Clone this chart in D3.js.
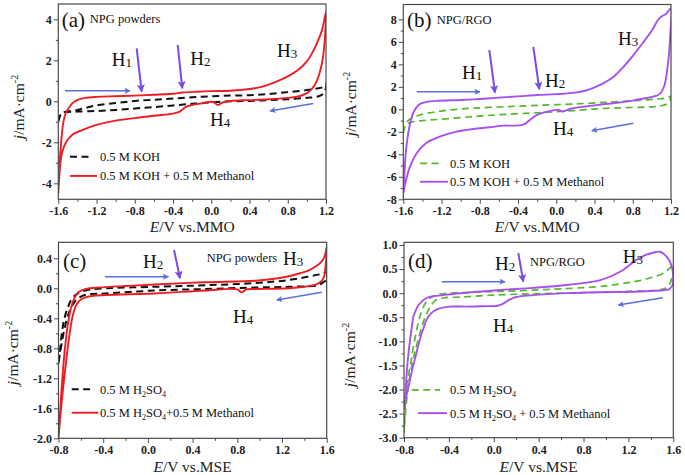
<!DOCTYPE html>
<html><head><meta charset="utf-8">
<script src="https://cdn.jsdelivr.net/npm/d3@7"></script>
<style>body{margin:0;background:#fff}svg{display:block}</style>
</head><body>
<svg id="chart" width="685" height="475"></svg>
<script>
// ---------- DATA ----------
const xTicksMMO = [-1.6,-1.2,-0.8,-0.4,0.0,0.4,0.8,1.2];
const xTicksMSE = [-0.8,-0.4,0.0,0.4,0.8,1.2,1.6];
const aYTicks = [-4,-2,0,2,4];
const bYTicks = [-8,-6,-4,-2,0,2,4,6,8];
const cYTicks = [-2.0,-1.6,-1.2,-0.8,-0.4,0.0,0.4];
const dYTicks = [-3.0,-2.5,-2.0,-1.5,-1.0,-0.5,0.0,0.5,1.0];

// (a) NPG powders, 0.5 M KOH
const aKOH_E = [-1.6,-1.58,-1.55,-1.5,-1.4,-1.3,-1.2,-1.0,-0.8,-0.6,-0.4,-0.2,0.0,0.2,0.4,0.6,0.8,1.0,1.1,1.18,1.2,
  1.19,1.15,1.1,1.0,0.8,0.6,0.4,0.2,0.0,-0.2,-0.4,-0.6,-0.8,-1.0,-1.2,-1.4,-1.5,-1.56,-1.6];
const aKOH_j = [-1.0,-0.7,-0.55,-0.5,-0.42,-0.3,-0.2,-0.08,0.02,0.08,0.14,0.2,0.25,0.28,0.3,0.36,0.45,0.55,0.62,0.72,0.85,
  0.5,0.3,0.22,0.17,0.1,0.06,0.02,0.0,-0.05,-0.12,-0.2,-0.28,-0.35,-0.42,-0.47,-0.5,-0.52,-0.55,-0.9];
// (a) NPG powders, 0.5 M KOH + 0.5 M Methanol
const aMeOH_E = [-1.6,-1.59,-1.57,-1.55,-1.52,-1.48,-1.44,-1.39,-1.32,-1.2,-1.0,-0.8,-0.6,-0.4,-0.3,-0.15,0.0,0.2,0.4,0.5,0.6,0.7,0.8,0.9,1.0,1.06,1.12,1.16,1.2,
  1.19,1.17,1.14,1.1,1.05,1.0,0.92,0.8,0.6,0.4,0.2,0.12,0.07,0.03,0.0,-0.1,-0.2,-0.27,-0.33,-0.4,-0.6,-0.8,-1.0,-1.2,-1.35,-1.45,-1.52,-1.56,-1.58,-1.6];
const aMeOH_j = [-4.5,-3.3,-2.0,-1.1,-0.55,-0.25,-0.05,0.08,0.17,0.22,0.25,0.28,0.32,0.37,0.43,0.47,0.5,0.52,0.6,0.68,0.82,1.0,1.22,1.5,1.95,2.4,3.0,3.5,4.35,
  3.2,2.2,1.5,0.95,0.6,0.4,0.25,0.17,0.1,0.06,0.02,-0.05,-0.18,-0.05,-0.02,-0.1,-0.18,-0.28,-0.5,-0.6,-0.7,-0.82,-0.94,-1.15,-1.4,-1.62,-2.0,-2.5,-3.1,-4.5];

// (b) NPG/RGO, 0.5 M KOH
const bKOH_E = [-1.6,-1.58,-1.55,-1.5,-1.43,-1.3,-1.1,-0.87,-0.52,-0.17,0.17,0.52,0.87,1.05,1.15,1.2,
  1.19,1.15,1.08,1.0,0.87,0.52,0.17,-0.17,-0.52,-0.87,-1.22,-1.4,-1.52,-1.57,-1.6];
const bKOH_j = [-2.1,-1.5,-1.0,-0.75,-0.5,-0.28,-0.05,0.1,0.24,0.36,0.47,0.62,0.8,0.92,1.0,1.15,
  0.85,0.45,0.28,0.22,0.18,0.09,-0.12,-0.3,-0.44,-0.65,-0.89,-1.0,-1.15,-1.35,-2.1];
// (b) NPG/RGO, 0.5 M KOH + 0.5 M Methanol
const bMeOH_E = [-1.6,-1.59,-1.58,-1.56,-1.53,-1.5,-1.46,-1.42,-1.36,-1.25,-1.0,-0.8,-0.6,-0.4,-0.2,0.0,0.2,0.3,0.4,0.5,0.6,0.7,0.8,0.9,1.0,1.06,1.1,1.15,1.2,
  1.195,1.18,1.16,1.13,1.08,1.0,0.87,0.73,0.52,0.3,0.15,0.1,0.07,0.03,0.0,-0.05,-0.12,-0.2,-0.27,-0.32,-0.36,-0.45,-0.55,-0.7,-0.87,-1.04,-1.22,-1.36,-1.46,-1.53,-1.58,-1.6];
const bMeOH_j = [-7.5,-6.0,-4.5,-2.8,-1.3,-0.4,0.2,0.5,0.65,0.75,0.83,0.92,1.04,1.15,1.27,1.35,1.48,1.65,1.95,2.35,2.9,3.75,4.75,5.85,7.0,7.9,8.25,8.5,9.0,
  7.0,5.0,3.5,2.1,1.35,1.1,0.9,0.68,0.47,0.25,0.05,-0.1,-0.2,-0.08,-0.05,-0.12,-0.25,-0.5,-0.9,-1.25,-1.4,-1.45,-1.45,-1.6,-1.75,-1.98,-2.43,-3.0,-3.9,-5.1,-6.6,-7.5];

// (c) NPG powders, 0.5 M H2SO4
const cAcid_E = [-0.8,-0.785,-0.77,-0.75,-0.72,-0.68,-0.63,-0.56,-0.44,0.06,0.51,0.96,1.26,1.45,1.55,1.6,
  1.6,1.56,1.52,1.26,0.96,0.51,0.06,-0.38,-0.53,-0.6,-0.65,-0.7,-0.74,-0.77,-0.8];
const cAcid_j = [-1.0,-0.8,-0.6,-0.42,-0.27,-0.14,-0.07,-0.03,-0.005,0.02,0.04,0.07,0.11,0.16,0.19,0.21,
  0.12,0.07,0.04,0.02,0.01,-0.01,-0.03,-0.07,-0.08,-0.11,-0.17,-0.3,-0.5,-0.72,-1.0];
// (c) NPG powders, 0.5 M H2SO4 + 0.5 M Methanol
const cMeOH_E = [-0.8,-0.79,-0.775,-0.755,-0.735,-0.71,-0.68,-0.65,-0.62,-0.58,-0.52,-0.44,-0.2,0.06,0.5,0.96,1.15,1.26,1.36,1.44,1.5,1.55,1.58,1.6,
  1.59,1.575,1.55,1.5,1.4,1.26,0.96,0.88,0.84,0.8,0.51,0.06,-0.38,-0.53,-0.6,-0.64,-0.67,-0.7,-0.73,-0.76,-0.78,-0.8];
const cMeOH_j = [-2.0,-1.75,-1.4,-1.0,-0.7,-0.42,-0.22,-0.11,-0.05,-0.02,0.0,0.01,0.03,0.05,0.08,0.1,0.13,0.16,0.2,0.24,0.29,0.35,0.42,0.55,
  0.3,0.15,0.09,0.05,0.02,0.0,-0.01,-0.015,-0.055,-0.015,-0.03,-0.07,-0.09,-0.11,-0.15,-0.22,-0.35,-0.6,-0.95,-1.35,-1.65,-2.0];

// (d) NPG/RGO, 0.5 M H2SO4
const dAcid_E = [-0.8,-0.79,-0.78,-0.76,-0.74,-0.72,-0.69,-0.66,-0.62,-0.57,-0.5,-0.4,-0.2,0.2,0.6,1.0,1.2,1.3,1.4,1.5,1.56,1.6,
  1.59,1.57,1.53,1.45,1.2,0.8,0.4,0.0,-0.3,-0.45,-0.52,-0.57,-0.62,-0.66,-0.7,-0.73,-0.76,-0.78,-0.8];
const dAcid_j = [-2.9,-2.4,-2.0,-1.7,-1.45,-1.15,-0.8,-0.5,-0.25,-0.1,-0.03,0.0,0.02,0.05,0.09,0.15,0.22,0.26,0.32,0.4,0.5,0.6,
  0.35,0.2,0.1,0.06,0.04,0.01,-0.01,-0.04,-0.08,-0.1,-0.15,-0.3,-0.55,-0.85,-1.2,-1.5,-1.9,-2.3,-2.9];
// (d) NPG/RGO, 0.5 M H2SO4 + 0.5 M Methanol
const dMeOH_E = [-0.8,-0.79,-0.776,-0.76,-0.746,-0.73,-0.717,-0.69,-0.67,-0.6,-0.45,-0.24,0.06,0.35,0.65,0.95,1.13,1.27,1.36,1.42,1.48,1.54,1.58,1.6,
  1.59,1.56,1.51,1.4,1.24,0.95,0.65,0.35,0.2,0.145,0.08,0.03,-0.09,-0.25,-0.39,-0.5,-0.56,-0.6,-0.63,-0.66,-0.69,-0.72,-0.76,-0.785,-0.8];
const dMeOH_j = [-2.4,-2.2,-1.66,-1.25,-0.97,-0.7,-0.49,-0.33,-0.245,-0.1,-0.04,0.01,0.066,0.11,0.17,0.27,0.45,0.69,0.8,0.84,0.86,0.76,0.6,0.34,
  0.15,0.08,0.06,0.045,0.03,0.02,0.0,-0.04,-0.08,-0.13,-0.22,-0.26,-0.27,-0.28,-0.28,-0.33,-0.42,-0.56,-0.75,-0.97,-1.25,-1.52,-1.94,-2.2,-2.4];

// ---------- STYLE / LAYOUT ----------
const FONT = "'Liberation Serif','Times New Roman',serif";
const RED = "#ee1d24", PURPLE = "#a84ff2", GREEN = "#55b82c", BLACK = "#111";
const HARROW = "#7a4be6", BLUE = "#5b70d8", FRAME = "#4a4a4a";

const panels = [
  { box:[58.3,326,4,199.3], xDom:[-1.6,1.2], yDom:[-4.78,4.75], xTicks:xTicksMMO, yTicks:aYTicks, yDec:0,
    xTitle:"vs.MMO", xTitleY:232, yLab:[19,107],
    series:[{E:aKOH_E,j:aKOH_j,color:BLACK,dash:"7,4.5",w:2},{E:aMeOH_E,j:aMeOH_j,color:RED,w:1.9}],
    tag:["(a)",-1.565,3.62], name:["NPG powders",-1.27,3.82],
    H:[["1",-1.04,1.72],["2",-0.22,1.77],["3",0.688,2.16],["4",-0.013,-1.2]],
    hArrows:[[-0.78,2.59,-0.728,0.47],[-0.351,2.75,-0.303,0.63]],
    bArrows:[[-1.53,0.52,-0.85,0.52],[1.067,-0.1,0.614,-0.47]],
    legend:[{x0:-1.478,x1:-1.268,y:-2.70,ty:-2.91,text:["0.5 M KOH"]},{x0:-1.478,x1:-1.195,y:-3.64,ty:-3.86,text:["0.5 M KOH + 0.5 M Methanol"]}],
    legX:-1.164 },
  { box:[403.3,671,4.5,199.3], xDom:[-1.6,1.2], yDom:[-8,9.32], xTicks:xTicksMMO, yTicks:bYTicks, yDec:0,
    xTitle:"vs.MMO", xTitleY:232, yLab:[351,104],
    series:[{E:bKOH_E,j:bKOH_j,color:GREEN,dash:"7,4.5",w:1.7},{E:bMeOH_E,j:bMeOH_j,color:PURPLE,w:1.9}],
    tag:["(b)",-1.561,7.32], name:["NPG/RGO",-1.25,7.58],
    H:[["1",-0.986,2.74],["2",-0.118,1.98],["3",0.646,5.72],["4",-0.034,-2.28]],
    hArrows:[[-0.70,5.27,-0.641,1.48],[-0.24,5.56,-0.177,1.78]],
    bArrows:[[-1.46,1.56,-0.798,1.56],[0.806,-1.24,0.371,-1.90]],
    legend:[{x0:-1.425,x1:-1.216,y:-4.8,ty:-5.22,text:["0.5 M KOH"]},{x0:-1.425,x1:-1.132,y:-6.44,ty:-6.82,text:["0.5 M KOH + 0.5 M Methanol"]}],
    legX:-1.112 },
  { box:[58.5,326.7,242.3,438.3], xDom:[-0.8,1.6], yDom:[-2.0,0.613], xTicks:xTicksMSE, yTicks:cYTicks, yDec:1,
    xTitle:"vs.MSE", xTitleY:472, yLab:[13,353],
    series:[{E:cAcid_E,j:cAcid_j,color:BLACK,dash:"7,4.5",w:2},{E:cMeOH_E,j:cMeOH_j,color:RED,w:1.9}],
    tag:["(c)",-0.76,0.27], name:["NPG powders",0.526,0.35],
    H:[["2",-0.044,0.27],["3",1.209,0.31],["4",0.762,-0.463]],
    hArrows:[[0.234,0.51,0.287,0.133]],
    bArrows:[[-0.384,0.155,0.183,0.155],[1.555,-0.053,1.153,-0.156]],
    legend:[{x0:-0.682,x1:-0.518,y:-1.347,ty:-1.41,text:["0.5 M H","2","SO","4",""]},{x0:-0.682,x1:-0.444,y:-1.659,ty:-1.716,text:["0.5 M H","2","SO","4","+0.5 M Methanol"]}],
    legX:-0.429 },
  { box:[404,673.3,242.3,437.7], xDom:[-0.8,1.6], yDom:[-3.0,1.056], xTicks:xTicksMSE, yTicks:dYTicks, yDec:1,
    xTitle:"vs.MSE", xTitleY:472, yLab:[350,355],
    series:[{E:dAcid_E,j:dAcid_j,color:GREEN,dash:"7,4.5",w:1.7},{E:dMeOH_E,j:dMeOH_j,color:PURPLE,w:1.9}],
    tag:["(d)",-0.764,0.523], name:["NPG/RGO",0.323,0.564],
    H:[["2",0.011,0.48],["3",1.149,0.627],["4",-0.007,-0.805]],
    hArrows:[[0.219,0.83,0.263,0.24]],
    bArrows:[[-0.464,0.239,0.1,0.239],[1.506,-0.093,1.11,-0.245]],
    legend:[{x0:-0.731,x1:-0.479,y:-2.008,ty:-2.10,text:["0.5 M H","2","SO","4",""]},{x0:-0.675,x1:-0.417,y:-2.49,ty:-2.59,text:["0.5 M H","2","SO","4"," + 0.5 M Methanol"]}],
    legX:-0.39 }
];

// ---------- DRAW ----------
const svg = d3.select("#chart");
const defs = svg.append("defs");
function marker(id, color, w, h){
  defs.append("marker").attr("id",id).attr("viewBox","0 0 10 10").attr("refX",9).attr("refY",5)
    .attr("markerUnits","userSpaceOnUse").attr("markerWidth",w).attr("markerHeight",h).attr("orient","auto")
    .append("path").attr("d","M0,0 L10,5 L0,10 L2,5 z").attr("fill",color);
}
marker("mH", HARROW, 10, 8);
marker("mB", BLUE, 9, 6);

const fmt = dec => v => { const s = Math.abs(v).toFixed(dec); return (v < 0 && +s !== 0 ? "-" : "") + s; };
const mids = t => t.slice(1).map((v,i)=>(v+t[i])/2);

function styleAxis(sel){
  sel.select(".domain").remove();
  sel.selectAll(".tick line").attr("stroke",FRAME).attr("stroke-width",1);
  sel.selectAll(".tick text").attr("fill","#222").style("font-family",FONT).style("font-size","12px").style("font-weight","bold");
}

panels.forEach((p,pi)=>{
  const [L,R,T,B] = p.box;
  const x = d3.scaleLinear().domain(p.xDom).range([L,R]);
  const y = d3.scaleLinear().domain(p.yDom).range([B,T]);
  const g = svg.append("g");
  const cid = "clip"+pi;
  defs.append("clipPath").attr("id",cid).append("rect").attr("x",L).attr("y",T).attr("width",R-L).attr("height",B-T);

  // axes (minor + major)
  g.append("g").attr("transform",`translate(0,${B})`).call(d3.axisBottom(x).tickValues(mids(p.xTicks)).tickSize(2.5).tickSizeOuter(0).tickFormat("")).call(styleAxis);
  g.append("g").attr("transform",`translate(0,${B})`).call(d3.axisBottom(x).tickValues(p.xTicks).tickSize(4.5).tickSizeOuter(0).tickPadding(3).tickFormat(fmt(1))).call(styleAxis);
  g.append("g").attr("transform",`translate(${L},0)`).call(d3.axisLeft(y).tickValues(mids(p.yTicks)).tickSize(2.5).tickSizeOuter(0).tickFormat("")).call(styleAxis);
  g.append("g").attr("transform",`translate(${L},0)`).call(d3.axisLeft(y).tickValues(p.yTicks).tickSize(4.5).tickSizeOuter(0).tickPadding(2).tickFormat(fmt(p.yDec))).call(styleAxis);

  // curves
  const line = d3.line().x(d=>x(d[0])).y(d=>y(d[1])).curve(d3.curveCatmullRom.alpha(0.5));
  const cg = g.append("g").attr("clip-path",`url(#${cid})`);
  p.series.forEach(s=>{
    const pts = s.E.map((e,i)=>[e,s.j[i]]);
    cg.append("path").attr("d",line(pts)).attr("fill","none").attr("stroke",s.color)
      .attr("stroke-width",s.w).attr("stroke-dasharray",s.dash||null).attr("stroke-linejoin","round");
  });

  // frame
  g.append("rect").attr("x",L).attr("y",T).attr("width",R-L).attr("height",B-T)
    .attr("fill","none").attr("stroke",FRAME).attr("stroke-width",1.2);

  // axis titles
  const xt = g.append("text").attr("x",(L+R)/2).attr("y",p.xTitleY).attr("text-anchor","middle")
    .style("font-family",FONT).style("font-size","15.5px").attr("fill","#222");
  xt.append("tspan").attr("font-style","italic").text("E");
  xt.append("tspan").text("/V " + p.xTitle);

  const yt = g.append("text").attr("transform",`translate(${p.yLab[0]},${p.yLab[1]}) rotate(-90)`)
    .attr("text-anchor","middle").style("font-family",FONT).style("font-size","15.5px").attr("fill","#222").attr("dy","0.35em");
  yt.append("tspan").attr("font-style","italic").text("j");
  yt.append("tspan").text("/mA·cm");
  yt.append("tspan").attr("font-size","10px").attr("dy","-6").text("-2");

  // tag and name
  g.append("text").attr("x",x(p.tag[1])).attr("y",y(p.tag[2])).style("font-family",FONT).style("font-size","21px").attr("fill","#111").text(p.tag[0]);
  g.append("text").attr("x",x(p.name[1])).attr("y",y(p.name[2])).style("font-family",FONT).style("font-size","12.5px").attr("fill","#111").text(p.name[0]);

  // H labels
  p.H.forEach(h=>{
    const t = g.append("text").attr("x",x(h[1])).attr("y",y(h[2])).style("font-family",FONT).style("font-size","19px").attr("fill","#111");
    t.append("tspan").text("H");
    t.append("tspan").attr("font-size","13px").attr("dy","1").text(h[0]);
  });

  // arrows
  p.hArrows.forEach(a=>{
    g.append("line").attr("x1",x(a[0])).attr("y1",y(a[1])).attr("x2",x(a[2])).attr("y2",y(a[3]))
      .attr("stroke",HARROW).attr("stroke-width",2).attr("marker-end","url(#mH)");
  });
  p.bArrows.forEach(a=>{
    g.append("line").attr("x1",x(a[0])).attr("y1",y(a[1])).attr("x2",x(a[2])).attr("y2",y(a[3]))
      .attr("stroke",BLUE).attr("stroke-width",1.5).attr("marker-end","url(#mB)");
  });

  // legend
  p.legend.forEach((l,i)=>{
    const s = p.series[i];
    g.append("line").attr("x1",x(l.x0)).attr("x2",x(l.x1)).attr("y1",y(l.y)).attr("y2",y(l.y))
      .attr("stroke",s.color).attr("stroke-width",s.w).attr("stroke-dasharray",s.dash||null);
    const t = g.append("text").attr("x",x(p.legX)).attr("y",y(l.ty)).style("font-family",FONT).style("font-size","12.5px").attr("fill","#111");
    if(l.text.length===1){ t.text(l.text[0]); }
    else {
      t.append("tspan").text(l.text[0]);
      t.append("tspan").attr("font-size","8px").attr("dy","3").text(l.text[1]);
      t.append("tspan").attr("dy","-3").text(l.text[2]);
      t.append("tspan").attr("font-size","8px").attr("dy","3").text(l.text[3]);
      t.append("tspan").attr("dy","-3").text(l.text[4]);
    }
  });
});
</script>
</body></html>
